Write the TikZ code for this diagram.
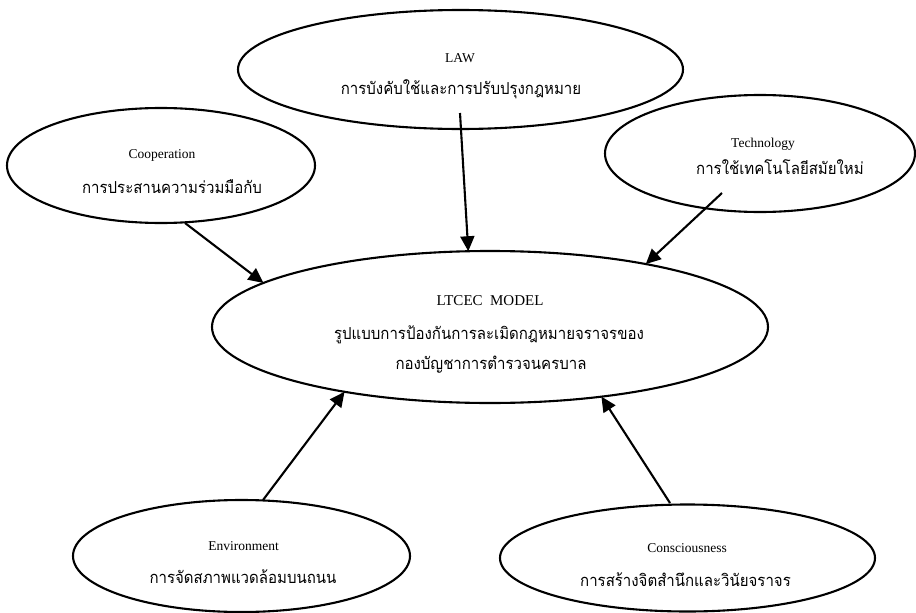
\documentclass[tikz,border=0pt]{standalone}
\usepackage{fontspec}
\setmainfont{Liberation Serif}
\newfontfamily\thaifont[Script=Thai,FakeStretch=0.91]{Loma}
\usetikzlibrary{shapes.geometric,arrows.meta}
\begin{document}
\begin{tikzpicture}[x=1pt,y=-1pt,
  oval/.style={draw, line width=2.1pt, ellipse, inner sep=0pt, outer sep=0pt},
  en/.style={font=\fontsize{13.5}{15}\selectfont, anchor=base, inner sep=0pt},
  th/.style={font=\fontsize{16.5}{19}\thaifont, anchor=base, inner sep=0pt},
  arr/.style={line width=2.1pt, -{Triangle[length=15pt,width=14pt]}}]
\useasboundingbox (0,0) rectangle (916,613);
% ellipses
\node[oval, minimum width=445pt, minimum height=119pt] (law) at (460.5,69.5) {};
\node[oval, minimum width=308pt, minimum height=115pt] (coop) at (161,165.5) {};
\node[oval, minimum width=310pt, minimum height=117pt] (tech) at (760,153.5) {};
\node[oval, minimum width=556pt, minimum height=152pt] (model) at (490,327) {};
\node[oval, minimum width=337pt, minimum height=112pt] (env) at (241.5,556) {};
\node[oval, minimum width=375pt, minimum height=107pt] (cons) at (687.5,558) {};
% texts
\node[en] (lawen) at (460,62) {LAW};
\node[th] (lawth) at (461,94) {การบังคับใช้และการปรับปรุงกฎหมาย};
\node[en] (coopen) at (162,158) {Cooperation};
\node[th] (coopth) at (172,193) {การประสานความร่วมมือกับ};
\node[en] (techen) at (763,147) {Technology};
\node[th] (techth) at (780,174) {การใช้เทคโนโลยีสมัยใหม่};
\node[en, font=\fontsize{15}{17}\selectfont] (modelen) at (490,305) {LTCEC\ \ MODEL};
\node[th] (modelth1) at (489,339) {รูปแบบการป้องกันการละเมิดกฎหมายจราจรของ};
\node[th] (modelth2) at (491,369) {กองบัญชาการตำรวจนครบาล};
\node[en] (enven) at (243.5,550) {Environment};
\node[th] (envth) at (243,583) {การจัดสภาพแวดล้อมบนถนน};
\node[en] (consen) at (687,552) {Consciousness};
\node[th] (consth) at (685.5,586) {การสร้างจิตสำนึกและวินัยจราจร};
% tails
\coordinate (lawtail) at (460,113);
\coordinate (cooptail) at (185,223);
\coordinate (techtail) at (722,193);
\coordinate (envtail) at (263,500);
\coordinate (constail) at (670,503);
% arrows
\draw[arr] (lawtail) -- (model.106.2);
\draw[arr] (cooptail) -- (model.169.95);
\draw[arr] (techtail) -- (model.22.4);
\draw[arr] (envtail) -- (model.204.8);
\draw[arr] (constail) -- (model.328.2);
\end{tikzpicture}
\end{document}
